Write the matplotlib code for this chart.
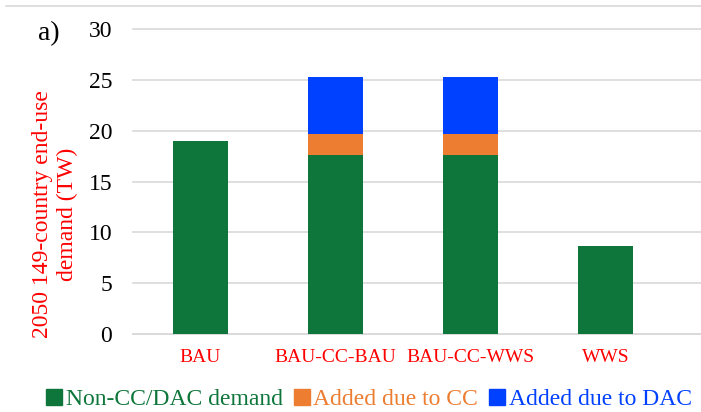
import matplotlib
matplotlib.use("Agg")
import matplotlib.pyplot as plt
from matplotlib.lines import Line2D

plt.rcParams['font.family'] = ['Liberation Serif', 'DejaVu Serif']

scenarios = ["BAU", "BAU-CC-BAU", "BAU-CC-WWS", "WWS"]
base_demand = [19.0, 17.6, 17.6, 8.7]
cc_added = [0.0, 2.1, 2.1, 0.0]
dac_added = [0.0, 5.6, 5.6, 0.0]
series_names = ["Non-CC/DAC demand", "Added due to CC", "Added due to DAC"]
yticks = [0, 5, 10, 15, 20, 25, 30]

colors = ["#0F763B", "#ED7D31", "#0040FF"]

fig = plt.figure(figsize=(7.01, 4.12), dpi=100)
ax = fig.add_axes([133 / 701, 1 - 334 / 412, 568 / 701, (334 - 29) / 412])

x = range(len(scenarios))
w = 0.41
ax.bar(x, base_demand, w, color=colors[0], zorder=3)
ax.bar(x, cc_added, w, bottom=base_demand, color=colors[1], zorder=3)
bottom2 = [b + c for b, c in zip(base_demand, cc_added)]
ax.bar(x, dac_added, w, bottom=bottom2, color=colors[2], zorder=3)

ax.set_xlim(-0.5, -0.5 + 568 / 135)
ax.set_ylim(0, 30)
ax.set_yticks(yticks)
ax.set_yticklabels([str(t) for t in yticks], fontsize=17, color="black")
ax.set_xticks(list(x))
ax.set_xticklabels(scenarios, fontsize=14, color="red")
ax.tick_params(axis="both", length=0)
ax.tick_params(axis="y", pad=15)
ax.tick_params(axis="x", pad=11)

ax.grid(axis="y", color="#D9D9D9", linewidth=1.2, zorder=0)
for line in ax.get_ygridlines():
    line.set_clip_on(False)
for s in ["top", "right", "left"]:
    ax.spines[s].set_visible(False)
ax.spines["bottom"].set_color("#D9D9D9")
ax.spines["bottom"].set_linewidth(1.2)

fig.text(55 / 701, 1 - 214 / 412, "2050 149-country end-use\ndemand (TW)",
         rotation=90, ha="center", va="center", color="red", fontsize=17,
         linespacing=1.2)
fig.text(49 / 701, 1 - 34 / 412, "a)", ha="center", va="center",
         fontsize=20, color="black")

# thin frame line along the top of the chart area
fig.add_artist(Line2D([6 / 701, 1.0], [1 - 6 / 412, 1 - 6 / 412],
                      transform=fig.transFigure, color="#D9D9D9", linewidth=1.2))

handles = [Line2D([], [], marker="s", linestyle="none", markersize=11,
                  color=c) for c in colors]
leg = fig.legend(handles, series_names, loc="center", ncol=3,
                 bbox_to_anchor=(367 / 701, 1 - 399 / 412), frameon=False,
                 fontsize=17, handletextpad=0.0, columnspacing=0.3,
                 handlelength=1.0, borderpad=0.0)
for t, c in zip(leg.get_texts(), colors):
    t.set_color(c)

fig.savefig("out.png", dpi=100)
